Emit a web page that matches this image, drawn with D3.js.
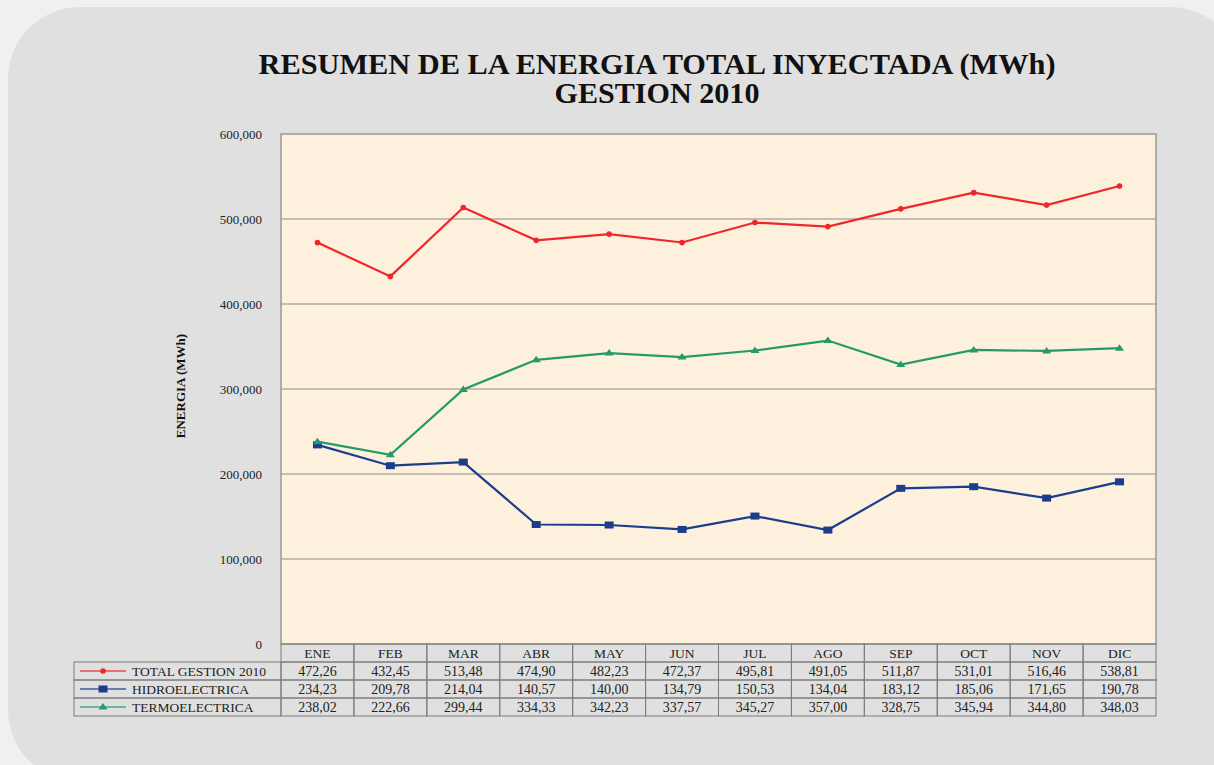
<!DOCTYPE html>
<html>
<head>
<meta charset="utf-8">
<script src="https://cdn.jsdelivr.net/npm/d3@7"></script>
<style>
  body { margin: 0; background: #f0f0f0; }
  svg { display: block; }
  text { font-family: "Liberation Serif", "DejaVu Serif", serif; }
</style>
</head>
<body>
<div id="chart"></div>
<script>
// data (values in thousands of MWh, as printed in the table)
var months = ["ENE", "FEB", "MAR", "ABR", "MAY", "JUN", "JUL", "AGO", "SEP", "OCT", "NOV", "DIC"];
var total = [472.26, 432.45, 513.48, 474.90, 482.23, 472.37, 495.81, 491.05, 511.87, 531.01, 516.46, 538.81];
var hidro = [234.23, 209.78, 214.04, 140.57, 140.00, 134.79, 150.53, 134.04, 183.12, 185.06, 171.65, 190.78];
var termo = [238.02, 222.66, 299.44, 334.33, 342.23, 337.57, 345.27, 357.00, 328.75, 345.94, 344.80, 348.03];
var seriesNames = ["TOTAL GESTION 2010", "HIDROELECTRICA", "TERMOELECTRICA"];
var yTicks = [0, 100000, 200000, 300000, 400000, 500000, 600000];

var series = [
    { name: seriesNames[0], values: total, color: "#f0272a", marker: "circle" },
    { name: seriesNames[1], values: hidro, color: "#1b3d8c", marker: "square" },
    { name: seriesNames[2], values: termo, color: "#259a68", marker: "triangle" }
];

var W = 1214, H = 765;
var plot = { left: 281, right: 1156, top: 134, bottom: 644 };
var rowH = 18;

var svg = d3.select("#chart").append("svg")
    .attr("width", W)
    .attr("height", H);

// background panel
svg.append("rect").attr("width", W).attr("height", H).attr("fill", "#f0f0f0");
svg.append("rect")
    .attr("x", 8).attr("y", 7)
    .attr("width", W + 20).attr("height", H + 10)
    .attr("rx", 72).attr("ry", 72)
    .attr("fill", "#e0e0e0");

// title
var title = svg.append("text")
    .attr("text-anchor", "middle")
    .attr("font-weight", "bold").attr("font-size", 29).attr("fill", "#111");
title.append("tspan").attr("x", 657).attr("y", 74)
    .attr("textLength", 797).attr("lengthAdjust", "spacingAndGlyphs")
    .text("RESUMEN DE LA ENERGIA TOTAL INYECTADA (MWh)");
title.append("tspan").attr("x", 657).attr("y", 103)
    .attr("textLength", 205).attr("lengthAdjust", "spacingAndGlyphs")
    .text("GESTION 2010");

// scales
var x = d3.scaleBand().domain(months).range([plot.left, plot.right]);
var y = d3.scaleLinear().domain([0, 600000]).range([plot.bottom, plot.top]);

// plot area
svg.append("rect")
    .attr("x", plot.left).attr("y", plot.top)
    .attr("width", plot.right - plot.left).attr("height", plot.bottom - plot.top)
    .attr("fill", "#fdf1dd").attr("stroke", "#999").attr("stroke-width", 1.5);

// gridlines
svg.selectAll(".grid")
    .data(yTicks.slice(1, -1))
    .enter().append("line")
    .attr("x1", plot.left).attr("x2", plot.right)
    .attr("y1", function (d) { return y(d); })
    .attr("y2", function (d) { return y(d); })
    .attr("stroke", "#8a8a8a").attr("stroke-width", 1.2);

// y axis
var yAxis = svg.append("g")
    .attr("transform", "translate(" + plot.left + ",0)")
    .call(d3.axisLeft(y).tickValues(yTicks).tickSize(0).tickPadding(19).tickFormat(d3.format(",")));
yAxis.select(".domain").remove();
yAxis.selectAll("text")
    .attr("font-family", "Liberation Serif, serif")
    .attr("font-size", 13).attr("fill", "#222");

svg.append("text")
    .attr("transform", "translate(185,386) rotate(-90)")
    .attr("text-anchor", "middle")
    .attr("font-weight", "bold").attr("font-size", 13).attr("fill", "#111")
    .text("ENERGIA (MWh)");

// lines
var line = d3.line()
    .x(function (d, i) { return x(months[i]) + x.bandwidth() / 2; })
    .y(function (d) { return y(d * 1000); });

function drawMarker(g, type, color, cx, cy) {
    if (type === "circle") {
        g.append("circle").attr("cx", cx).attr("cy", cy).attr("r", 2.8).attr("fill", color);
    } else if (type === "square") {
        g.append("rect").attr("x", cx - 4.5).attr("y", cy - 3.5).attr("width", 9).attr("height", 7).attr("fill", color);
    } else {
        g.append("path")
            .attr("d", "M" + cx + "," + (cy - 4) + "L" + (cx + 4.5) + "," + (cy + 2.5) + "L" + (cx - 4.5) + "," + (cy + 2.5) + "Z")
            .attr("fill", color);
    }
}

series.forEach(function (s) {
    svg.append("path")
        .datum(s.values)
        .attr("fill", "none")
        .attr("stroke", s.color)
        .attr("stroke-width", 2.2)
        .attr("d", line);
    var g = svg.append("g");
    s.values.forEach(function (v, i) {
        drawMarker(g, s.marker, s.color, x(months[i]) + x.bandwidth() / 2, y(v * 1000));
    });
});

// data table
var table = svg.append("g");
var tableLeft = 74;
var gridColor = "#7d7d7d";

// header row
months.forEach(function (m) {
    table.append("rect")
        .attr("x", x(m)).attr("y", plot.bottom)
        .attr("width", x.bandwidth()).attr("height", rowH)
        .attr("fill", "none").attr("stroke", gridColor);
    table.append("text")
        .attr("x", x(m) + x.bandwidth() / 2).attr("y", plot.bottom + 14)
        .attr("text-anchor", "middle").attr("font-size", 13.5).attr("fill", "#222")
        .text(m);
});

var fmt = function (v) { return v.toFixed(2).replace(".", ","); };

series.forEach(function (s, r) {
    var top = plot.bottom + rowH * (r + 1);
    table.append("rect")
        .attr("x", tableLeft).attr("y", top)
        .attr("width", plot.left - tableLeft).attr("height", rowH)
        .attr("fill", "none").attr("stroke", gridColor);
    // legend key
    table.append("line")
        .attr("x1", 80).attr("x2", 126)
        .attr("y1", top + rowH / 2).attr("y2", top + rowH / 2)
        .attr("stroke", s.color).attr("stroke-width", 1.6).attr("opacity", 0.8);
    drawMarker(table, s.marker, s.color, 103, top + rowH / 2);
    table.append("text")
        .attr("x", 132).attr("y", top + 14)
        .attr("font-size", 13.5).attr("fill", "#222")
        .text(s.name);
    s.values.forEach(function (v, i) {
        table.append("rect")
            .attr("x", x(months[i])).attr("y", top)
            .attr("width", x.bandwidth()).attr("height", rowH)
            .attr("fill", "none").attr("stroke", gridColor);
        table.append("text")
            .attr("x", x(months[i]) + x.bandwidth() / 2).attr("y", top + 14)
            .attr("text-anchor", "middle").attr("font-size", 14).attr("fill", "#222")
            .text(fmt(v));
    });
});
</script>
</body>
</html>
